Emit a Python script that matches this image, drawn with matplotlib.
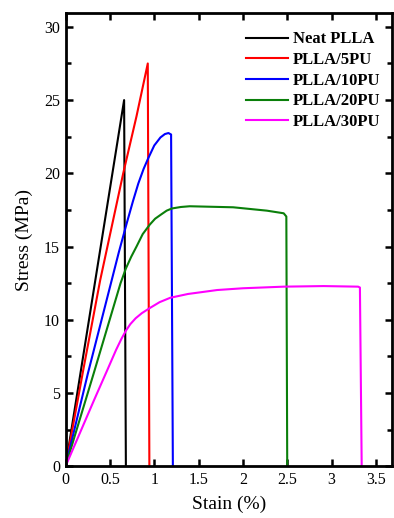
import matplotlib
matplotlib.use("Agg")
import matplotlib.pyplot as plt
from matplotlib.ticker import MultipleLocator

# ---- data ----
labels = ["Neat PLLA", "PLLA/5PU", "PLLA/10PU", "PLLA/20PU", "PLLA/30PU"]
colors = ["#000000", "#ff0000", "#0000ff", "#0a7f0a", "#ff00ff"]

neat_x = [0, 0.66, 0.68]
neat_y = [0, 25.0, 0]

pu5_x = [0, 0.20, 0.39, 0.65, 0.80, 0.927, 0.945]
pu5_y = [0, 6.6, 12.7, 20.0, 23.9, 27.5, 0]

pu10_x = [0, 0.25, 0.52, 0.60, 0.69, 0.76, 0.82, 0.88, 0.93, 1.00, 1.07, 1.12, 1.16, 1.19, 1.21]
pu10_y = [0, 6.3, 12.7, 14.6, 16.6, 18.1, 19.3, 20.3, 21.0, 21.9, 22.45, 22.68, 22.75, 22.65, 0]

pu20_x = [0, 0.32, 0.62, 0.68, 0.74, 0.80, 0.87, 0.95, 1.01, 1.08, 1.14, 1.20, 1.30, 1.40,
          1.89, 2.27, 2.46, 2.49, 2.50]
pu20_y = [0, 6.4, 12.5, 13.5, 14.3, 15.0, 15.85, 16.5, 16.9, 17.2, 17.45, 17.6, 17.7, 17.75,
          17.68, 17.45, 17.27, 17.05, 0]

pu30_x = [0, 0.16, 0.32, 0.48, 0.57, 0.63, 0.68, 0.73, 0.79, 0.86, 0.95, 1.06, 1.18, 1.38,
          1.71, 2.00, 2.46, 2.91, 3.30, 3.32, 3.34]
pu30_y = [0, 2.25, 4.5, 6.7, 7.95, 8.7, 9.25, 9.7, 10.1, 10.45, 10.8, 11.2, 11.5, 11.76,
          12.03, 12.15, 12.26, 12.3, 12.26, 12.2, 0]

series_x = [neat_x, pu5_x, pu10_x, pu20_x, pu30_x]
series_y = [neat_y, pu5_y, pu10_y, pu20_y, pu30_y]

x_ticks = [0, 0.5, 1, 1.5, 2, 2.5, 3, 3.5]
x_tick_labels = ["0", "0.5", "1", "1.5", "2", "2.5", "3", "3.5"]
y_ticks = [0, 5, 10, 15, 20, 25, 30]
y_tick_labels = ["0", "5", "10", "15", "20", "25", "30"]

plt.rcParams["font.family"] = ["Liberation Serif", "DejaVu Serif"]

fig = plt.figure(figsize=(3.94, 5.18), dpi=100)
ax = fig.add_axes([0.1665, 0.1, 0.828, 0.875])

for xs, ys, c, lab in zip(series_x, series_y, colors, labels):
    ax.plot(xs, ys, color=c, lw=1.5, label=lab, solid_joinstyle="round")

ax.set_xlim(0, 3.68)
ax.set_ylim(0, 30.95)
ax.set_xticks(x_ticks)
ax.set_xticklabels(x_tick_labels)
ax.set_yticks(y_ticks)
ax.set_yticklabels(y_tick_labels)
ax.yaxis.set_minor_locator(MultipleLocator(2.5))

for s in ax.spines.values():
    s.set_linewidth(2.0)

ax.tick_params(which="both", direction="in", top=True, right=True, width=1.8, labelsize=11.5, colors="black")
ax.tick_params(which="major", length=5, pad=4)
ax.tick_params(which="minor", length=3.5)

ax.set_xlabel("Stain (%)", fontsize=14, labelpad=6)
ax.set_ylabel("Stress (MPa)", fontsize=14, labelpad=8)

leg = ax.legend(loc="upper right", bbox_to_anchor=(1.0, 0.985), frameon=False,
                prop={"weight": "bold", "size": 12}, handlelength=2.55,
                handletextpad=0.25, labelspacing=0.28, borderaxespad=0.3)

fig.savefig("out.png", dpi=100)
